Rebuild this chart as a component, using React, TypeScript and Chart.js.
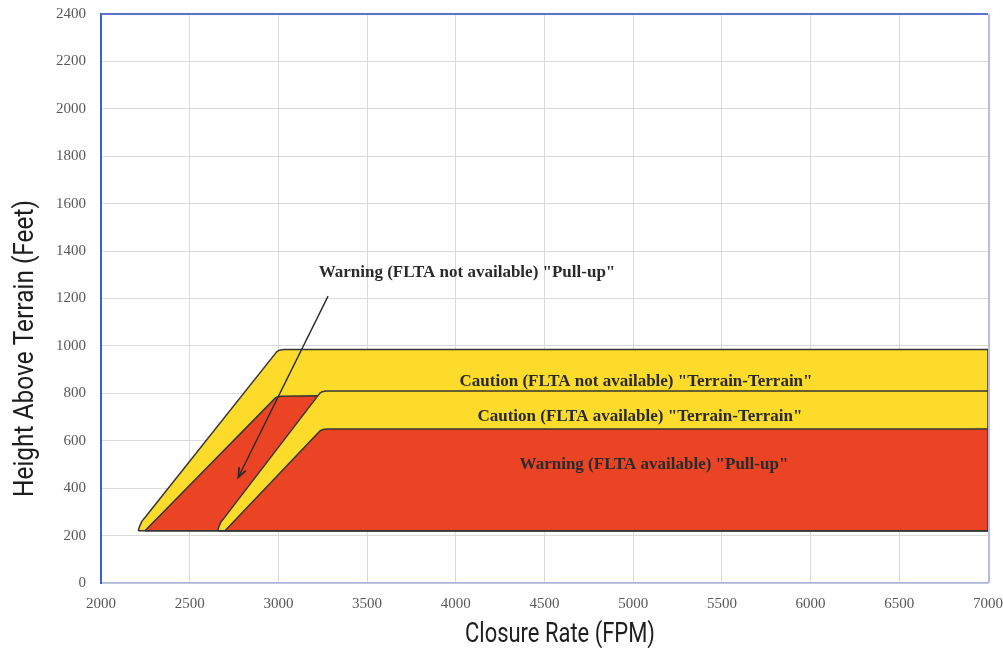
import React, { useEffect, useRef } from "react";
import { Chart, registerables } from "chart.js";

Chart.register(...registerables);

const W = 1003;
const H = 648;

// Axis ranges / ticks
const xRange = [2000, 7000];
const xStep = 500;
const yRange = [0, 2400];
const yStep = 200;

// Envelope polygons (Closure rate FPM, Height above terrain ft)
const cautionNoFltaX = [2210, 2217, 2230, 2258, 2990, 3005, 3030, 7000, 7000, 2210];
const cautionNoFltaY = [220, 238, 260, 286, 975, 982, 985, 985, 220, 220];

const warningNoFltaX = [2248, 2985, 2998, 3015, 3240, 2720, 2248];
const warningNoFltaY = [220, 782, 786, 788, 790, 220, 220];

const cautionFltaX = [2658, 2664, 2676, 2699, 3234, 3247, 3268, 7000, 7000, 2658];
const cautionFltaY = [220, 237, 257, 279, 801, 807, 810, 810, 220, 220];

const warningFltaX = [2699, 3235, 3250, 3275, 7000, 7000, 2699];
const warningFltaY = [220, 642, 647, 650, 650, 220, 220];

// Annotation labels
const labelTexts = [
  'Warning (FLTA not available) "Pull-up"',
  'Caution (FLTA not available) "Terrain-Terrain"',
  'Caution (FLTA available) "Terrain-Terrain"',
  'Warning (FLTA available) "Pull-up"',
];
const labelX = [4063, 5016, 5038, 5117];
const labelY = [1311, 850, 700, 498];

// Arrow (from label to the FLTA-not-available warning zone)
const arrowFrom = [3280, 1210];
const arrowTo = [2774, 446];

const YELLOW = "#FCDB2A";
const RED = "#EB4424";
const EDGE = "#353535";

const xTitle = "Closure Rate (FPM)";
const yTitle = "Height Above Terrain (Feet)";

function drawCondensed(
  ctx: CanvasRenderingContext2D,
  text: string,
  x: number,
  y: number,
  rot: number,
  font: string,
  targetW: number
) {
  ctx.save();
  ctx.translate(x, y);
  ctx.rotate(rot);
  ctx.font = font;
  const w = ctx.measureText(text).width;
  ctx.scale(targetW / w, 1);
  ctx.textAlign = "center";
  ctx.textBaseline = "alphabetic";
  ctx.fillStyle = "#1e1e1e";
  ctx.fillText(text, 0, 0);
  ctx.restore();
}

const framePlugin = {
  id: "frame",
  beforeDatasetsDraw(chart: any) {
    const { ctx, chartArea: a } = chart;
    ctx.save();
    ctx.lineWidth = 2;
    ctx.strokeStyle = "#5a72c8";
    ctx.beginPath();
    ctx.moveTo(a.left, a.top);
    ctx.lineTo(a.right, a.top);
    ctx.stroke();
    ctx.strokeStyle = "#b4bde6";
    ctx.beginPath();
    ctx.moveTo(a.right + 1, a.top);
    ctx.lineTo(a.right + 1, a.bottom);
    ctx.stroke();
    ctx.restore();
  },
};

const annotPlugin = {
  id: "annot",
  afterDatasetsDraw(chart: any) {
    const { ctx } = chart;
    const xs = chart.scales.x;
    const ys = chart.scales.y;
    ctx.save();
    ctx.font = 'bold 17px "Liberation Serif", "DejaVu Serif", serif';
    ctx.fillStyle = "#2a2a2a";
    ctx.textAlign = "center";
    ctx.textBaseline = "middle";
    labelTexts.forEach((t, i) => {
      ctx.fillText(t, xs.getPixelForValue(labelX[i]), ys.getPixelForValue(labelY[i]));
    });
    // arrow
    const x1 = xs.getPixelForValue(arrowFrom[0]);
    const y1 = ys.getPixelForValue(arrowFrom[1]);
    const x2 = xs.getPixelForValue(arrowTo[0]);
    const y2 = ys.getPixelForValue(arrowTo[1]);
    ctx.strokeStyle = "#2a2a2a";
    ctx.lineWidth = 1.4;
    ctx.beginPath();
    ctx.moveTo(x1, y1);
    ctx.lineTo(x2, y2);
    ctx.stroke();
    const ang = Math.atan2(y2 - y1, x2 - x1);
    const hl = 10;
    ctx.beginPath();
    ctx.moveTo(x2 - hl * Math.cos(ang - 0.38), y2 - hl * Math.sin(ang - 0.38));
    ctx.lineTo(x2, y2);
    ctx.lineTo(x2 - hl * Math.cos(ang + 0.38), y2 - hl * Math.sin(ang + 0.38));
    ctx.lineWidth = 1.8;
    ctx.stroke();
    ctx.restore();
  },
  afterDraw(chart: any) {
    const { ctx } = chart;
    drawCondensed(ctx, xTitle, 560, 642, 0, '27px Roboto, "Noto Sans", sans-serif', 190);
    drawCondensed(ctx, yTitle, 32.5, 348.5, -Math.PI / 2, '27px Roboto, "Noto Sans", sans-serif', 297);
  },
};

export default function App() {
  const ref = useRef<HTMLCanvasElement>(null);

  useEffect(() => {
    const canvas = ref.current;
    if (!canvas) return;
    const pts = (xs: number[], ys: number[]) => xs.map((x, i) => ({ x, y: ys[i] }));
    const shape = (label: string, xs: number[], ys: number[], color: string, order: number) => ({
      label,
      data: pts(xs, ys),
      backgroundColor: color,
      borderColor: EDGE,
      borderWidth: 1.5,
      borderJoinStyle: "round" as const,
      fill: "shape" as const,
      pointRadius: 0,
      pointHoverRadius: 0,
      tension: 0,
      order,
    });

    const chart = new Chart(canvas, {
      type: "line",
      data: {
        datasets: [
          shape("Caution (FLTA not available)", cautionNoFltaX, cautionNoFltaY, YELLOW, 4),
          shape("Warning (FLTA not available)", warningNoFltaX, warningNoFltaY, RED, 3),
          shape("Caution (FLTA available)", cautionFltaX, cautionFltaY, YELLOW, 2),
          shape("Warning (FLTA available)", warningFltaX, warningFltaY, RED, 1),
        ] as any,
      },
      options: {
        responsive: false,
        animation: false,
        devicePixelRatio: 1,
        events: [],
        layout: { padding: { left: 0, right: 15, top: 14, bottom: 0 } },
        plugins: {
          legend: { display: false },
          tooltip: { enabled: false },
        },
        scales: {
          x: {
            type: "linear",
            min: xRange[0],
            max: xRange[1],
            ticks: {
              stepSize: xStep,
              color: "#585858",
              padding: 12,
              maxRotation: 0,
              callback: (v: any) => String(v),
              font: { family: '"Liberation Serif", serif', size: 15 },
            },
            grid: { color: "#dadada", drawTicks: false, lineWidth: 1 },
            border: { color: "#aab4e2", width: 1.5 },
            afterFit: (s: any) => {
              s.height = 65;
              s.paddingLeft = 0;
              s.paddingRight = 0;
            },
          },
          y: {
            type: "linear",
            min: yRange[0],
            max: yRange[1],
            ticks: {
              stepSize: yStep,
              color: "#585858",
              padding: 15,
              callback: (v: any) => String(v),
              font: { family: '"Liberation Serif", serif', size: 15 },
            },
            grid: { color: "#dadada", drawTicks: false, lineWidth: 1 },
            border: { color: "#3e5ec4", width: 2 },
            afterFit: (s: any) => {
              s.width = 101;
              s.paddingTop = 0;
              s.paddingBottom = 0;
            },
          },
        },
      } as any,
      plugins: [framePlugin, annotPlugin],
    });
    return () => chart.destroy();
  }, []);

  return (
    <canvas
      ref={ref}
      width={W}
      height={H}
      style={{ position: "absolute", left: 0, top: 0, display: "block", width: W, height: H, background: "#fff" }}
    />
  );
}
